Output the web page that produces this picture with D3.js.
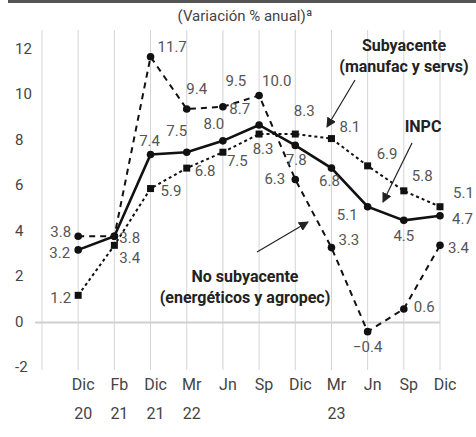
<!DOCTYPE html>
<html>
<head>
<meta charset="utf-8">
<script src="https://cdn.jsdelivr.net/npm/d3@7"></script>
<style>
  body { margin: 0; background: #fff; }
  svg text { font-family: Roboto, "Noto Sans", sans-serif; }
</style>
</head>
<body>
<div id="chart"></div>
<script>
'use strict';

var periods = ['Dic', 'Fb', 'Dic', 'Mr', 'Jn', 'Sp', 'Dic', 'Mr', 'Jn', 'Sp', 'Dic'];
var years = ['20', '21', '21', '22', '', '', '', '23', '', '', ''];
var yTicks = [-2, 0, 2, 4, 6, 8, 10, 12];

var inpc = [3.2, 3.8, 7.4, 7.5, 8.0, 8.7, 7.8, 6.8, 5.1, 4.5, 4.7];
var subyacente = [1.2, 3.4, 5.9, 6.8, 7.5, 8.3, 8.3, 8.1, 6.9, 5.8, 5.1];
var noSubyacente = [3.8, 3.8, 11.7, 9.4, 9.5, 10.0, 6.3, 3.3, -0.4, 0.6, 3.4];

var chart = {};
chart.w = 476;
chart.h = 437;

// label placement for each point: [dx, dy, anchor]
chart.inpcLbl = [[-8, 4, 'end'], [5, 3, 'start'], [-1, -12, 'middle'], [-10, -20, 'middle'],
  [-9, -16, 'middle'], [-9, -15, 'end'], [1, 16, 'middle'], [-2, 14, 'middle'],
  [-10, 9, 'end'], [0, 17, 'middle'], [12, 4, 'start']];
chart.subLbl = [[-7, 4, 'end'], [5, 14, 'start'], [10, 3, 'start'], [8, 4, 'start'],
  [4, 10, 'start'], [4, 16, 'middle'], [9, -22, 'middle'], [8, -11, 'start'],
  [9, -11, 'start'], [8, -14, 'start'], [13, -13, 'start']];
chart.noSubLbl = [[-7, -3, 'end'], null, [7, -9, 'start'], [10, -19, 'middle'],
  [13, -25, 'middle'], [3, -13, 'start'], [-10, 1, 'end'], [7, -7, 'start'],
  [0, 16, 'middle'], [10, -1, 'start'], [8, 4, 'start']];

var svg = d3.select('#chart').append('svg')
  .attr('width', chart.w)
  .attr('height', chart.h);

var x = d3.scaleLinear().domain([-1, periods.length - 1]).range([42, 440]);
var y = d3.scaleLinear().domain([-2, 12]).range([368, 50]);

// top rule
svg.append('rect').attr('x', 8).attr('y', 0).attr('width', chart.w - 8).attr('height', 3)
  .attr('fill', '#555');

svg.append('text')
  .attr('x', 245).attr('y', 17)
  .attr('text-anchor', 'middle').attr('dominant-baseline', 'middle')
  .attr('font-size', 15).attr('fill', '#444')
  .text('(Variación % anual)ª');

// vertical grid
svg.append('g').selectAll('line')
  .data(d3.range(-1, periods.length))
  .enter().append('line')
  .attr('x1', function(d){ return x(d); })
  .attr('x2', function(d){ return x(d); })
  .attr('y1', 30).attr('y2', 370)
  .attr('stroke', '#d4d4d4').attr('stroke-width', 1);

// zero line
svg.append('line')
  .attr('x1', 35).attr('x2', x(periods.length - 1))
  .attr('y1', y(0)).attr('y2', y(0))
  .attr('stroke', '#d0d0d0').attr('stroke-width', 2);

// y tick labels
svg.append('g').selectAll('text')
  .data(yTicks)
  .enter().append('text')
  .attr('x', 15).attr('y', function(d){ return y(d); })
  .attr('dominant-baseline', 'middle')
  .attr('font-size', 15).attr('fill', '#444')
  .text(function(d){ return d; });

// x labels
var xl = svg.append('g').selectAll('g')
  .data(periods)
  .enter().append('g')
  .attr('transform', function(d, i){ return 'translate(' + (x(i) + 5) + ',0)'; });
xl.append('text')
  .attr('y', 386).attr('text-anchor', 'middle').attr('dominant-baseline', 'middle')
  .attr('font-size', 16).attr('fill', '#444')
  .text(function(d){ return d; });
xl.append('text')
  .attr('y', 415).attr('text-anchor', 'middle').attr('dominant-baseline', 'middle')
  .attr('font-size', 16).attr('fill', '#444')
  .text(function(d, i){ return years[i]; });

var line = d3.line()
  .x(function(d, i){ return x(i); })
  .y(function(d){ return y(d); });

function fmt(v) {
  return v < 0 ? '\u2212' + Math.abs(v).toFixed(1) : v.toFixed(1);
}

function drawSeries(data, dash, width, marker, labels) {
  var g = svg.append('g');
  g.append('path')
    .datum(data)
    .attr('d', line)
    .attr('fill', 'none')
    .attr('stroke', '#111')
    .attr('stroke-width', width)
    .attr('stroke-dasharray', dash);
  if (marker === 'square') {
    g.selectAll('rect').data(data).enter().append('rect')
      .attr('x', function(d, i){ return x(i) - 3.5; })
      .attr('y', function(d){ return y(d) - 3.5; })
      .attr('width', 7).attr('height', 7)
      .attr('fill', '#111');
  } else {
    g.selectAll('circle').data(data).enter().append('circle')
      .attr('cx', function(d, i){ return x(i); })
      .attr('cy', function(d){ return y(d); })
      .attr('r', 3.8)
      .attr('fill', '#111');
  }
  var idx = d3.range(data.length).filter(function(i){ return labels[i] !== null; });
  g.selectAll('text').data(idx).enter().append('text')
    .attr('x', function(i){ return x(i) + labels[i][0]; })
    .attr('y', function(i){ return y(data[i]) + labels[i][1]; })
    .attr('text-anchor', function(i){ return labels[i][2]; })
    .attr('dominant-baseline', 'middle')
    .attr('font-size', 15)
    .attr('fill', '#555')
    .text(function(i){ return fmt(data[i]); });
}

drawSeries(noSubyacente, '6,5', 2, 'circle', chart.noSubLbl);
drawSeries(subyacente, '3,3', 2, 'square', chart.subLbl);
drawSeries(inpc, null, 2.6, 'circle', chart.inpcLbl);

// annotations
svg.append('defs').append('marker')
  .attr('id', 'head')
  .attr('viewBox', '0 0 10 10')
  .attr('refX', 9).attr('refY', 5)
  .attr('markerWidth', 10).attr('markerHeight', 10)
  .attr('markerUnits', 'userSpaceOnUse')
  .attr('orient', 'auto')
  .append('path').attr('d', 'M0,0L10,5L0,10z').attr('fill', '#222');

function note(lines, tx, ty, from, to) {
  lines.forEach(function(t, k){
    svg.append('text')
      .attr('x', tx).attr('y', ty + k * 21)
      .attr('text-anchor', 'middle').attr('dominant-baseline', 'middle')
      .attr('font-size', 16).attr('font-weight', 'bold').attr('fill', '#222')
      .text(t);
  });
  svg.append('line')
    .attr('x1', from[0]).attr('y1', from[1])
    .attr('x2', to[0]).attr('y2', to[1])
    .attr('stroke', '#222').attr('stroke-width', 1.2)
    .attr('marker-end', 'url(#head)');
}

note(['Subyacente', '(manufac y servs)'], 404, 47, [355, 80], [327, 127]);
note(['INPC'], 423, 128, [412, 143], [383, 202]);
note(['No subyacente', '(energéticos y agropec)'], 245, 278, [257, 252], [308, 222]);
</script>
</body>
</html>
